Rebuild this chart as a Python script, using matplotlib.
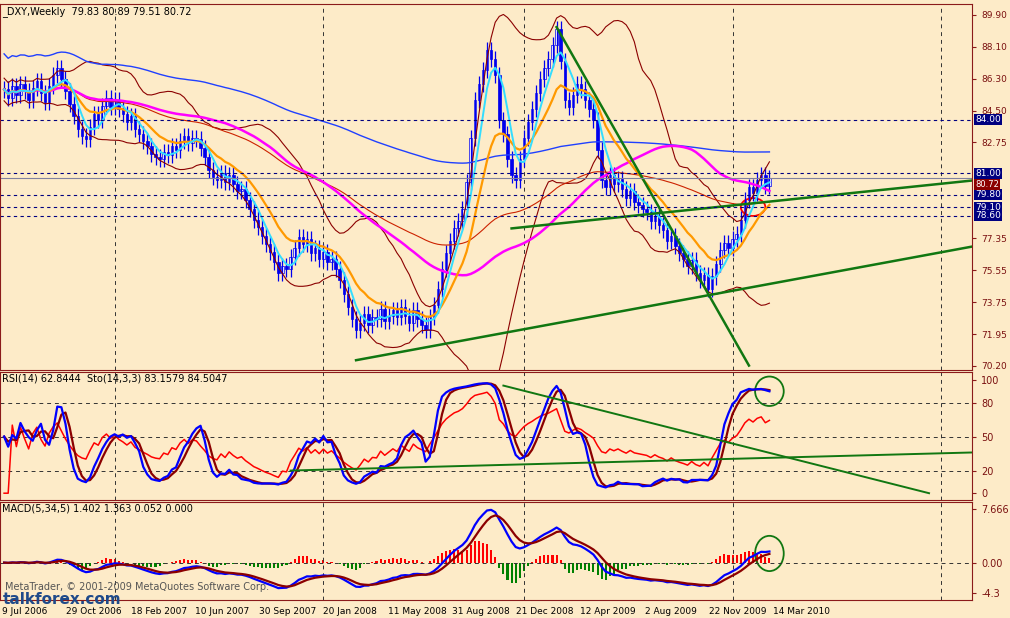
import numpy as np
import pandas as pd
import matplotlib
matplotlib.use("Agg")
import matplotlib.pyplot as plt
from matplotlib.patches import Ellipse

# weekly closes of _DXY
closes = [
    85.7, 85.2, 85.9, 85.4, 86.0, 85.6, 85.1, 85.8, 86.2, 85.5, 85.0, 85.9, 86.5, 86.9,
    86.3, 85.6, 84.9, 84.2, 83.5, 83.1, 82.9,
    83.6, 84.3, 84.0, 84.8, 85.2, 84.7, 85.1,
    84.6, 84.3, 83.9, 84.2, 83.5, 83.2, 82.8, 82.5, 82.1, 81.9, 81.8,
    82.2, 82.0, 82.5, 82.3, 82.8, 83.1, 82.7, 83.0, 82.9,
    82.4, 81.9, 81.2, 80.8, 80.6, 81.0, 80.5, 80.9, 80.4, 80.0, 80.1,
    79.5, 79.0, 78.4, 78.0, 77.5, 77.0, 76.6, 76.0, 75.4, 75.8, 75.6,
    76.3, 76.8, 77.4, 77.0, 77.3, 76.5, 76.8, 76.2, 76.6, 76.0, 76.2,
    75.6, 75.0, 74.2, 73.5, 72.8, 72.2, 72.6, 73.1, 72.5, 72.9, 72.8,
    73.4, 72.7, 73.0, 73.3, 72.9, 73.5, 73.0, 72.6, 73.3, 72.8, 72.5, 72.2,
    72.9, 73.6, 74.5, 75.6, 76.5, 77.2, 77.9, 78.3, 79.0,
    80.5, 83.0, 85.1, 86.0, 86.8, 87.9, 87.4, 86.5, 84.0,
    83.2, 81.8, 80.9, 80.6, 81.8, 83.0, 83.9, 84.6,
    85.5, 86.3, 86.9, 87.4, 88.2, 89.1, 87.3, 85.1,
    84.7, 85.4, 86.0, 85.7, 85.1, 84.6, 84.0, 82.3, 80.6,
    80.2, 80.9, 80.4, 80.7, 80.1, 79.6, 80.0, 79.4, 79.2, 79.0,
    78.8, 78.3, 78.6, 78.1, 77.8, 77.2, 77.5, 76.9, 76.5, 76.2,
    75.8, 76.1, 75.4, 75.0, 75.3, 74.5, 75.2, 75.9, 76.7,
    77.1, 76.8, 77.3, 77.6, 78.4, 79.5, 80.2, 79.9, 80.6, 80.9, 80.3, 80.72,
]
date_labels = ["9 Jul 2006", "29 Oct 2006", "18 Feb 2007", "10 Jun 2007", "30 Sep 2007",
               "20 Jan 2008", "11 May 2008", "31 Aug 2008", "21 Dec 2008", "12 Apr 2009",
               "2 Aug 2009", "22 Nov 2009", "14 Mar 2010"]
price_ticks = [89.90, 88.10, 86.30, 84.50, 82.75, 77.35, 75.55, 73.75, 71.95, 70.20]
levels = [84.00, 81.00, 79.80, 79.10, 78.60]
year_lines = [27, 78, 127, 178, 229]
# drawn trendlines: (bar, value) pairs
price_trends = [((86, 70.5), (237, 76.9)), ((124, 77.9), (237, 80.6)), ((135, 89.2), (182, 70.2))]
rsi_trends = [((70, 20), (237, 36)), ((122, 95), (226, 0))]

BG = "#FDEBC8"
FRAME = "#8B1A1A"
TXT = "#7A1010"
XMIN, XMAX = -1.0, 236.5

c = pd.Series(closes)
o = c.shift(1).fillna(c.iloc[0])
hi = np.maximum(o, c) + 0.45
lo = np.minimum(o, c) - 0.45
x = np.arange(len(c))

ma5 = c.rolling(5, min_periods=1).mean()
ma13 = c.ewm(span=13).mean()
ma55 = c.rolling(55, min_periods=1).mean()
ma100 = c.ewm(span=100).mean()
ma200 = c.rolling(200, min_periods=1).mean() + 2.0
mid = c.rolling(20, min_periods=1).mean()
sd = c.rolling(20, min_periods=2).std().bfill()
bb_up, bb_dn = mid + 1.8 * sd, mid - 1.8 * sd

d = c.diff()
up = d.clip(lower=0).ewm(alpha=1 / 14).mean()
dn = (-d.clip(upper=0)).ewm(alpha=1 / 14).mean()
rsi = (100 - 100 / (1 + up / dn)).bfill()
ll = lo.rolling(14, min_periods=1).min()
hh = hi.rolling(14, min_periods=1).max()
k = (100 * (c - ll) / (hh - ll)).rolling(3, min_periods=1).mean()
dd = k.rolling(3, min_periods=1).mean()

macd = c.ewm(span=5).mean() - c.ewm(span=34).mean()
sig = macd.ewm(span=5).mean()
hist = macd - sig

fig = plt.figure(figsize=(10.1, 6.18), dpi=100, facecolor=BG)
W = 972 / 1010
ax1 = fig.add_axes([0, 1 - 370 / 618, W, 366 / 618])
ax2 = fig.add_axes([0, 1 - 500 / 618, W, 128 / 618], sharex=ax1)
ax3 = fig.add_axes([0, 1 - 600 / 618, W, 98 / 618], sharex=ax1)

for ax in (ax1, ax2, ax3):
    ax.set_facecolor(BG)
    for s in ax.spines.values():
        s.set_color(FRAME)
    ax.yaxis.tick_right()
    ax.tick_params(axis="y", colors=FRAME, labelcolor=TXT, labelsize=7, length=3, direction="out")
    ax.tick_params(axis="x", length=0, labelbottom=False)
    for yl in year_lines:
        ax.axvline(yl, color="#333333", lw=0.7, ls=(0, (4, 4)))

# main panel
ax1.vlines(x, lo, hi, color="#0000EE", lw=0.9)
body = np.abs(c - o).clip(lower=0.08)
ax1.bar(x, body, bottom=np.minimum(o, c), width=0.6, color=np.where(c >= o, "white", "#0000EE"),
        edgecolor="#0000EE", lw=0.5)
ax1.plot(x, bb_up, color="#8B0000", lw=0.8)
ax1.plot(x, bb_dn, color="#8B0000", lw=0.8)
ax1.plot(x, ma200, color="#2040FF", lw=1)
ax1.plot(x, ma100, color="#CC2200", lw=0.8)
ax1.plot(x, ma55, color="#FF00FF", lw=1.8)
ax1.plot(x, ma13, color="#FF9900", lw=1.6)
ax1.plot(x, ma5, color="#33DDFF", lw=1.4)
for a, b in price_trends:
    ax1.plot([a[0], b[0]], [a[1], b[1]], color="#117711", lw=1.8)
for lv in levels:
    ax1.axhline(lv, color="#000080", lw=0.8, ls=(0, (3, 3)))
    ax1.text(1.003, lv, f"{lv:.2f}", transform=ax1.get_yaxis_transform(), color="white", fontsize=6.5,
             va="center", ha="left", bbox=dict(boxstyle="square,pad=0.1", fc="#000080", ec="none"))
ax1.axhline(closes[-1], color="#8080A0", lw=0.8)
ax1.text(1.003, closes[-1] - 0.35, f"{closes[-1]:.2f}", transform=ax1.get_yaxis_transform(), color="white",
         fontsize=6, va="center", ha="left", bbox=dict(boxstyle="square,pad=0.1", fc="#8B0000", ec="none"))
ax1.add_patch(Ellipse((183, 79.1), 6, 1.0, fill=False, ec="red", lw=1.3))
ax1.set_ylim(69.95, 90.5)
ax1.set_yticks(price_ticks)
ax1.set_yticklabels([f"{t:.2f}" for t in price_ticks])
ax1.tick_params(axis="y", labelsize=6.5)
ax1.set_xlim(XMIN, XMAX)
ax1.text(0.002, 0.995, "_DXY,Weekly  79.83 80.89 79.51 80.72", transform=ax1.transAxes,
         fontsize=7, va="top", color="black")

# RSI / stochastic
for lv in (20, 50, 80):
    ax2.axhline(lv, color="#333333", lw=0.7, ls=(0, (4, 4)))
ax2.plot(x, rsi, color="red", lw=1.1)
ax2.plot(x, dd, color="#8B0000", lw=1.6)
ax2.plot(x, k, color="#0000FF", lw=1.6)
for a, b in rsi_trends:
    ax2.plot([a[0], b[0]], [a[1], b[1]], color="#117711", lw=1.4)
ax2.add_patch(Ellipse((187, 90), 7, 26, fill=False, ec="#117711", lw=1.3))
ax2.set_ylim(-6, 107)
ax2.set_yticks([0, 20, 50, 80, 100])
ax2.text(0.002, 0.99, "RSI(14) 62.8444  Sto(14,3,3) 83.1579 84.5047", transform=ax2.transAxes,
         fontsize=7, va="top", color="black")

# MACD
ax3.axhline(0, color="#333333", lw=0.7, ls=(0, (4, 4)))
ax3.bar(x, hist * 1.8, width=0.5, color=np.where(hist >= 0, "red", "green"))
ax3.plot(x, macd, color="#0000FF", lw=1.6)
ax3.plot(x, sig, color="#8B0000", lw=1.6)
ax3.add_patch(Ellipse((187, 1.3), 7, 5.0, fill=False, ec="#117711", lw=1.3))
ax3.set_ylim(-5.3, 8.6)
ax3.set_yticks([7.666, 0.0, -4.3])
ax3.set_yticklabels(["7.666", "0.00", "-4.3"])
ax3.text(0.002, 0.98, "MACD(5,34,5) 1.402 1.363 0.052 0.000", transform=ax3.transAxes,
         fontsize=7, va="top", color="black")
ax3.text(0.005, 0.1, "MetaTrader, \u00a9 2001-2009 MetaQuotes Software Corp.", transform=ax3.transAxes,
         fontsize=7, color="#555555")

# date labels every 16 weeks
ticks = np.arange(len(date_labels)) * 15.7 - 0.5
for t, lab in zip(ticks, date_labels):
    fig.text((t - XMIN) / (XMAX - XMIN) * W, 1 - 611 / 618, lab, fontsize=6.5, color="black", va="center")
fig.text(0.003, 1 - 600 / 618, "talkforex.com", fontsize=11, fontweight="bold", color="#1F4A8A", va="center")

fig.savefig("out.png", dpi=100, facecolor=BG)
